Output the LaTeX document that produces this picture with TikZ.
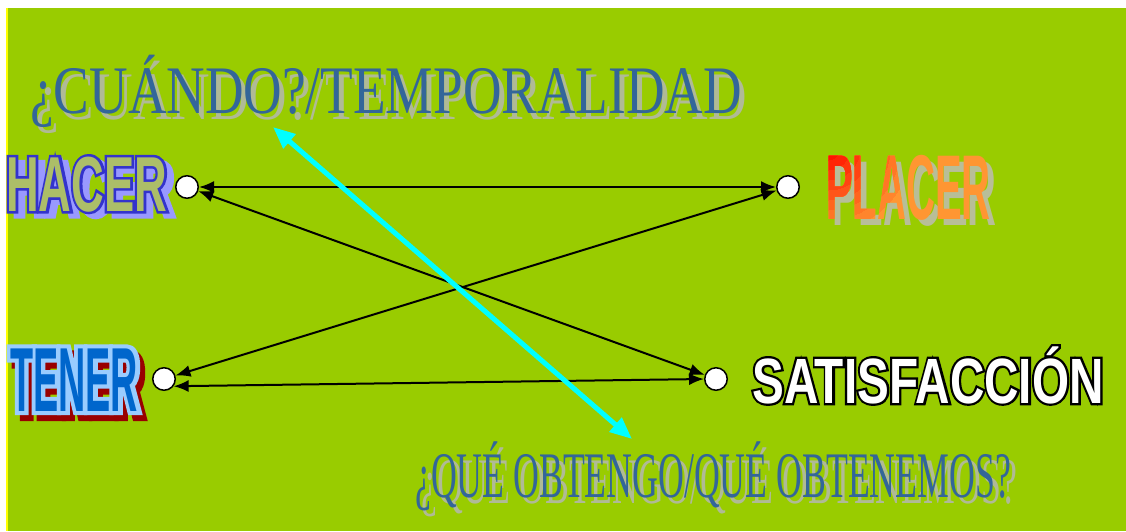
\documentclass[tikz,border=0pt]{standalone}
\usepackage{fontspec}
\usetikzlibrary{arrows.meta}
\setmainfont{Liberation Serif}
\newfontfamily\qfontA[FakeStretch=0.785]{Liberation Serif}
\newfontfamily\qfontB[FakeStretch=0.55]{Liberation Serif}
\newfontfamily\plaF[FakeStretch=0.435]{Liberation Sans}
\font\hacFillF="Liberation Sans/B:extend=0.58" at 78pt
\font\hacLineF="Liberation Sans/B:extend=0.58;embolden=6.4" at 78pt
\font\tenFillF="Liberation Sans/B:extend=0.415" at 91pt
\font\tenLineF="Liberation Sans/B:extend=0.415;embolden=9" at 91pt
\font\satFillF="Liberation Sans/B:extend=0.745" at 64pt
\font\satLineF="Liberation Sans/B:extend=0.745;embolden=7" at 64pt
\definecolor{bggreen}{RGB}{153,204,0}
\definecolor{edgeyellow}{RGB}{255,255,0}
\definecolor{qblue}{RGB}{51,102,153}
\definecolor{qshadow}{RGB}{176,186,150}
\definecolor{hacline}{RGB}{51,51,204}
\definecolor{hacfill}{RGB}{172,190,104}
\definecolor{hacshadow}{RGB}{153,153,255}
\definecolor{plashadow}{RGB}{184,190,152}
\definecolor{plared}{RGB}{255,20,0}
\definecolor{plaorange}{RGB}{255,150,50}
\definecolor{tenfill}{RGB}{0,102,204}
\definecolor{tenline}{RGB}{153,204,255}
\definecolor{tenshadow}{RGB}{153,0,0}
\definecolor{arrcyan}{RGB}{0,255,255}
\newcommand\placerword{{\plaF\bfseries\fontsize{92}{92}\selectfont PLACER}}
\begin{document}
\begin{tikzpicture}[x=1pt,y=-1pt,
  txt/.style={inner sep=0pt, anchor=base west},
  dot/.style={circle, draw=black, line width=1.5pt, fill=white, minimum size=22.5pt, inner sep=0pt},
  link/.style={draw=black, line width=2pt, {Latex[length=15pt,width=12pt]}-{Latex[length=15pt,width=12pt]}},
  timearrow/.style={draw=arrcyan, line width=5pt, {Triangle[length=22pt,width=18pt]}-{Triangle[length=22pt,width=18pt]}}
]
\useasboundingbox (0,0) rectangle (1126,531);
\fill[white] (0,0) rectangle (1126,531);
\fill[bggreen] (7,8) rectangle (1126,531);
\fill[edgeyellow] (5.5,8) rectangle (7.5,531);

% questions
\node[txt, text=qshadow] (q1s) at (35,119) {\qfontA\fontsize{68}{68}\selectfont ¿CUÁNDO?/TEMPORALIDAD};
\node[txt, text=qblue] (q1) at (30,113) {\qfontA\fontsize{68}{68}\selectfont ¿CUÁNDO?/TEMPORALIDAD};
\node[txt, text=qshadow] (q2s) at (421,503) {\qfontB\fontsize{65}{65}\selectfont ¿QUÉ OBTENGO/QUÉ OBTENEMOS?};
\node[txt, text=qblue] (q2) at (415,497) {\qfontB\fontsize{65}{65}\selectfont ¿QUÉ OBTENGO/QUÉ OBTENEMOS?};

% HACER
\node[txt, text=hacshadow] (hacS) at (13,216) {\hacLineF HACER};
\node[txt, text=hacline] (hacO) at (6,211) {\hacLineF HACER};
\node[txt, text=hacfill] (hacT) at (6,211) {\hacFillF HACER};

% PLACER (shadow, then a red-to-orange gradient made of clipped layers)
\node[txt, text=plashadow] (plaS) at (832,225) {\placerword};
\node[txt, text=plaorange] (plaT) at (826,219) {\placerword};
\foreach \i in {1,...,8}{
  \begin{scope}
    \clip (828,148) circle ({92-10*\i});
    \node[txt, text=plared!\the\numexpr\i*125/10\relax!plaorange] at (826,219) {\placerword};
  \end{scope}
}

% TENER
\node[txt, text=tenshadow] (tenS) at (15,417) {\tenLineF TENER};
\node[txt, text=tenline] (tenO) at (10,411) {\tenLineF TENER};
\node[txt, text=tenfill] (tenT) at (10,411) {\tenFillF TENER};

% SATISFACCION
\node[txt, text=black] (satO) at (752,403) {\satLineF SATISFACCIÓN};
\node[txt, text=white] (satT) at (752,403) {\satFillF SATISFACCIÓN};

% circles
\node[dot] (hac) at (187,187) {};
\node[dot] (pla) at (788,187) {};
\node[dot] (ten) at (164,379) {};
\node[dot] (sat) at (716,379) {};

% links
\draw[link] (hac) -- (pla);
\draw[link] (hac) -- (sat);
\draw[link] (pla) -- (ten);
\draw[link] (ten.-37) -- (sat.west);

% cyan arrow
\coordinate (ca) at (273,127);
\coordinate (cb) at (632,439);
\draw[timearrow] (ca) -- (cb);
\end{tikzpicture}
\end{document}
